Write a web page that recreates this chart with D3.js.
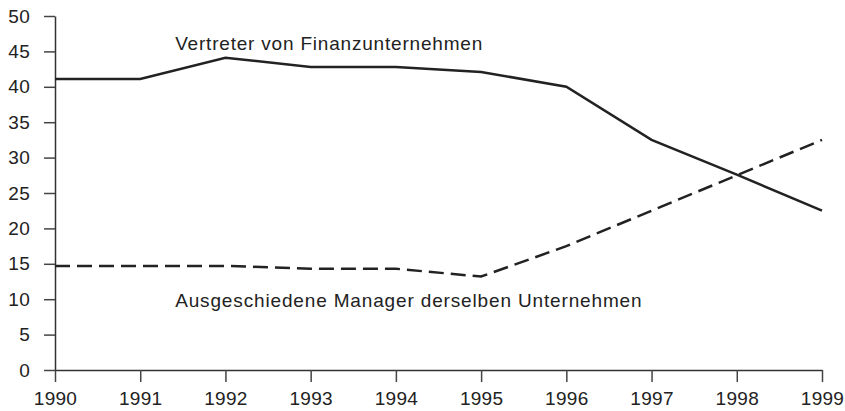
<!DOCTYPE html>
<html>
<head>
<meta charset="utf-8">
<script src="https://cdnjs.cloudflare.com/ajax/libs/d3/7.8.5/d3.min.js"></script>
<style>
  body { margin: 0; background: #fff; }
  svg text { font-family: "Liberation Sans", Arial, sans-serif; fill: #222; }
</style>
</head>
<body>
<div id="graph"></div>
<script>
// Data
var years = [1990, 1991, 1992, 1993, 1994, 1995, 1996, 1997, 1998, 1999];
var finanz = [41.1, 41.1, 44.1, 42.8, 42.8, 42.1, 40.0, 32.5, 27.6, 22.5];
var manager = [14.7, 14.7, 14.7, 14.3, 14.3, 13.2, 17.5, 22.5, 27.5, 32.5];
var yTicks = [0, 5, 10, 15, 20, 25, 30, 35, 40, 45, 50];
var labelFinanz = 'Vertreter von Finanzunternehmen';
var labelManager = 'Ausgeschiedene Manager derselben Unternehmen';

// Graph dimensions
var margin = {top: 16, right: 23, bottom: 41, left: 55},
    width = 845 - margin.left - margin.right,
    height = 411 - margin.top - margin.bottom;

var x = d3.scaleLinear().domain([1990, 1999]).range([0, width]),
    y = d3.scaleLinear().domain([0, 50]).range([height, 0]);

var svg = d3.select('#graph')
    .append('svg')
    .attr('width', 845)
    .attr('height', 411);

var chart = svg.append('g')
    .attr('transform', 'translate(' + margin.left + ',' + margin.top + ')');

// Axes
var xAxis = d3.axisBottom(x).tickValues(years).tickFormat(d3.format('d'))
    .tickSize(12).tickSizeOuter(0).tickPadding(10);
var yAxis = d3.axisLeft(y).tickValues(yTicks)
    .tickSize(11).tickSizeOuter(0).tickPadding(14);

var gx = chart.append('g')
    .attr('transform', 'translate(0,' + height + ')')
    .call(xAxis);
var gy = chart.append('g').call(yAxis);

[gx, gy].forEach(function(g) {
    g.select('.domain').attr('stroke', '#333').attr('stroke-width', 1.5);
    g.selectAll('.tick line').attr('stroke', '#444').attr('stroke-width', 1.5);
    g.selectAll('.tick text')
        .attr('font-size', 19)
        .attr('letter-spacing', 0.3)
        .attr('font-family', '"Liberation Sans", Arial, sans-serif')
        .attr('fill', '#222');
});

// Lines
var line = d3.line()
    .x(function(d, i) { return x(years[i]); })
    .y(function(d) { return y(d); });

chart.append('path')
    .attr('fill', 'none')
    .attr('stroke', '#222')
    .attr('stroke-width', 2.5)
    .attr('d', line(finanz));

chart.append('path')
    .attr('fill', 'none')
    .attr('stroke', '#222')
    .attr('stroke-width', 2.5)
    .attr('stroke-dasharray', '15,7')
    .attr('d', line(manager));

// Labels
chart.append('text')
    .attr('x', x(1991.41))
    .attr('y', y(45.2))
    .attr('font-size', 19)
    .attr('letter-spacing', 0.8)
    .text(labelFinanz);

chart.append('text')
    .attr('x', x(1991.41))
    .attr('y', y(8.9))
    .attr('font-size', 19)
    .attr('letter-spacing', 0.85)
    .text(labelManager);
</script>
</body>
</html>
